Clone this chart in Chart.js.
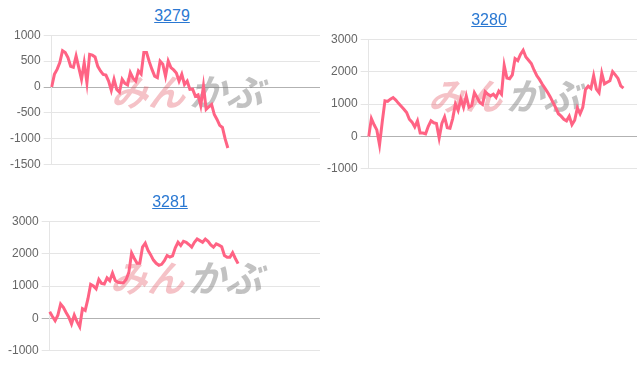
<!DOCTYPE html>
<html><head><meta charset="utf-8">
<script src="https://cdn.jsdelivr.net/npm/chart.js@4"></script>
<style>
body{margin:0;background:#fff;width:640px;height:372px;overflow:hidden;position:relative;font-family:"Liberation Sans",Arial,sans-serif;}
.box{position:absolute;width:320px;height:186px;}
.box a{position:absolute;left:172px;top:6px;transform:translateX(-50%);font-size:16px;line-height:20px;color:#2a78d2;text-decoration:underline;white-space:nowrap;}
.wrap{position:absolute;left:0;top:25px;height:150px;}
</style></head>
<body>
<div class="box" style="left:0;top:0"><a id="t1" href="#"></a><div class="wrap" style="width:320px"><canvas id="c1"></canvas></div></div>
<div class="box" style="left:317px;top:4px"><a id="t2" href="#"></a><div class="wrap" style="width:320px"><canvas id="c2"></canvas></div></div>
<div class="box" style="left:-2px;top:186px"><a id="t3" href="#"></a><div class="wrap" style="width:322px"><canvas id="c3"></canvas></div></div>
<script>
const titles = ['3279', '3280', '3281'];
const dayCount = 100;
const series3279 = [0,245,340,470,700,665,570,400,380,600,375,150,470,85,630,615,580,400,310,245,230,115,-65,150,-45,-100,150,70,40,280,170,115,310,250,665,665,490,340,210,180,500,440,210,500,375,330,270,115,245,50,115,-45,-40,-175,-150,-360,20,-430,-380,-335,-530,-625,-740,-780,-1000,-1175];
const series3280 = [0,550,360,200,-260,450,1100,1080,1150,1200,1120,1020,930,840,740,530,440,290,480,105,105,80,310,480,420,400,-50,400,600,270,250,550,1000,800,1150,900,1250,900,950,1350,1200,1050,990,1380,1300,1250,1300,1200,1400,1300,2190,1800,1780,1900,2400,2340,2530,2660,2450,2350,2250,2050,1880,1760,1615,1490,1360,1220,1050,885,700,625,530,480,625,360,500,880,700,900,1450,1550,1480,1875,1460,1350,1950,1620,1670,1720,2000,1900,1790,1560,1490];
const series3281 = [205,60,-70,100,445,340,180,40,-175,100,-100,-260,300,250,600,1050,1000,910,1200,1080,1060,1250,1165,1400,1170,1115,1100,1100,1200,1420,2020,1850,1700,1700,2200,2320,2100,1960,1800,1700,1640,1670,1780,1940,1890,1930,2180,2350,2250,2380,2350,2280,2200,2350,2450,2400,2350,2450,2380,2270,2200,2300,2260,2210,1940,1885,1885,2030,1850,1690];
const ticks3279 = [-1500,-1000,-500,0,500,1000];
const ticks3280 = [-1000,0,1000,2000,3000];
const ticks3281 = [-1000,0,1000,2000,3000];

const labels = Array.from({length: dayCount}, (_, i) => String(i + 1));

const watermark = {
  id: 'wm',
  beforeDatasetsDraw(chart) {
    const {ctx, chartArea: a} = chart;
    const cx = (a.left + a.right) / 2 + 4, cy = (a.top + a.bottom) / 2 - 8;
    ctx.save();
    ctx.translate(cx, cy);
    ctx.transform(1, 0, -0.3, 1, 0, 0);
    ctx.font = 'bold 37px "Noto Sans CJK JP"';
    ctx.textBaseline = 'middle';
    ctx.fillStyle = 'rgba(225,80,95,0.35)';
    ctx.textAlign = 'right';
    ctx.fillText('みん', -1, 0);
    ctx.fillStyle = 'rgba(120,120,120,0.45)';
    ctx.textAlign = 'left';
    ctx.fillText('かぶ', 3, 0);
    ctx.restore();
  }
};

function makeChart(id, tid, title, data, tickVals) {
  document.getElementById(tid).textContent = title;
  new Chart(document.getElementById(id), {
    type: 'line',
    data: {labels, datasets: [{data, borderColor: 'rgb(255,99,132)', backgroundColor: 'rgb(255,99,132)', borderWidth: 3, pointRadius: 0, tension: 0, fill: false}]},
    options: {
      responsive: true, maintainAspectRatio: false, animation: false,
      layout: {padding: {left: 7, right: 0, top: 0, bottom: 0}},
      plugins: {legend: {display: false}, tooltip: {enabled: false}, title: {display: false}},
      scales: {
        x: {display: false},
        y: {
          min: tickVals[0], max: tickVals[tickVals.length - 1],
          afterBuildTicks: s => { s.ticks = tickVals.map(v => ({value: v})); },
          ticks: {color: '#666', font: {size: 12, family: '"Liberation Sans", Arial, sans-serif'}, callback: v => String(v)},
          grid: {color: c => (c.tick && c.tick.value === 0) ? 'rgba(0,0,0,0.3)' : 'rgba(0,0,0,0.1)'},
          border: {color: 'rgba(0,0,0,0.1)'}
        }
      }
    },
    plugins: [watermark]
  });
}
makeChart('c1', 't1', titles[0], series3279, ticks3279);
makeChart('c2', 't2', titles[1], series3280, ticks3280);
makeChart('c3', 't3', titles[2], series3281, ticks3281);
</script>
</body></html>
